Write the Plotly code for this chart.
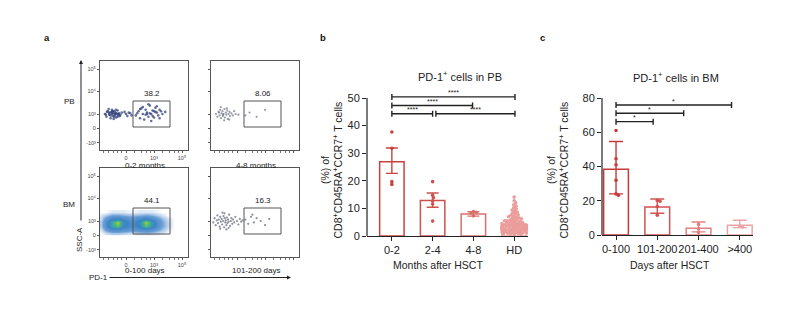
import plotly.graph_objects as go

W, H = 793, 327
FONT = "Liberation Sans, Arial, sans-serif"

# ---------------- data: panel a (flow cytometry, display units) ----------------
U_TICKS = [0, 1, 2]
U_TICKTEXT = ["0", "10³", "10⁵"]
V_TICKS = [-1.07, 0, 1, 2.64, 4.21]
V_TICKTEXT = ["-10³", "0", "10³", "10⁴", "10⁵"]
U_MINOR = [-0.8, -0.62, -0.45, -0.3, -0.15, 0.3, 0.55, 0.72, 0.86, 1.3, 1.55, 1.72, 1.86]
U_RANGE = [-0.929, 2.214]
V_RANGE = [-1.571, 4.786]
GATE_U = [0.25, 1.571]
GATE_V = [0.071, 1.929]
GATE_PCT = ["38.2", "8.06", "44.1", "16.3"]
FLOW_CAPTIONS = ["0-2 months", "4-8 months", "0-100 days", "101-200 days"]
ROW_LABELS = ["PB", "BM"]

TL_U = [-0.75, -0.7, -0.65, -0.6, -0.58, -0.55, -0.5, -0.5, -0.48, -0.45, -0.42, -0.4, -0.38, -0.35,
        -0.33, -0.3, -0.28, -0.25, -0.2, -0.15, -0.62, -0.52, -0.44, -0.36, -0.68, -0.3, -0.4, -0.56,
        -0.47, -0.22, -0.72, -0.6, -0.5, -0.42, -0.34, -0.26,
        0.0, 0.1, 0.2, 0.05, 0.15, -0.05,
        0.35, 0.45, 0.5, 0.55, 0.6, 0.65, 0.7, 0.75, 0.8, 0.85, 0.9, 0.95, 1.0, 1.05, 1.1, 1.15,
        1.2, 1.3, 1.4, 0.4, 0.6, 0.8, 1.0, 1.2, 0.7, 0.9, 1.1, 0.5, 0.85, 1.25, 0.95, 0.75, 1.05]
TL_V = [1.0, 0.8, 1.2, 0.95, 1.1, 0.7, 1.0, 1.3, 0.85, 1.05, 1.2, 0.9, 1.1, 0.75, 1.0, 1.25, 0.9,
        1.05, 0.95, 1.1, 1.35, 1.15, 0.65, 1.3, 1.15, 0.8, 1.0, 0.9, 1.2, 0.85, 0.95, 1.05, 1.15,
        0.8, 1.05, 1.0,
        1.0, 1.1, 0.9, 0.85, 1.05, 1.15,
        0.9, 1.2, 0.7, 1.4, 1.0, 0.6, 1.3, 1.1, 0.8, 1.6, 1.0, 1.25, 0.75, 1.45, 1.1, 0.9, 1.3,
        1.0, 1.15, 1.05, 1.5, 1.7, 1.2, 0.7, 0.95, 0.5, 1.55, 1.35, 1.05, 1.2, 0.85, 1.0, 1.15]

TR_U = [-0.75, -0.7, -0.66, -0.62, -0.6, -0.57, -0.55, -0.52, -0.5, -0.48, -0.45, -0.43, -0.4,
        -0.38, -0.35, -0.33, -0.3, -0.27, -0.25, -0.2, -0.15, -0.1, -0.05, 0.05, -0.58, -0.46,
        -0.36, -0.64, -0.28, -0.5, 0.45, 0.7, 1.0, 0.3]
TR_V = [1.0, 0.8, 1.15, 0.9, 1.3, 0.7, 1.05, 1.2, 0.85, 1.0, 1.35, 0.75, 1.1, 0.95, 1.25, 0.65,
        1.0, 1.15, 0.85, 1.05, 0.9, 1.2, 1.0, 0.95, 1.5, 0.55, 1.4, 1.1, 0.6, 0.95, 1.1, 0.8,
        1.3, 0.9]

BR_U = [-0.85, -0.8, -0.76, -0.72, -0.7, -0.68, -0.65, -0.62, -0.6, -0.58, -0.55, -0.53, -0.5,
        -0.48, -0.46, -0.44, -0.42, -0.4, -0.38, -0.36, -0.34, -0.32, -0.3, -0.28, -0.25, -0.22,
        -0.2, -0.17, -0.14, -0.1, -0.06, 0.0, 0.05, 0.1, 0.15, 0.2, -0.6, -0.45, -0.3, -0.52,
        -0.38, 0.3, 0.4, 0.5, 0.6, 0.7, 0.85, 1.0, 1.15, 0.55]
BR_V = [0.9, 1.2, 0.7, 1.05, 1.4, 0.85, 1.1, 0.6, 1.3, 0.95, 1.15, 0.75, 1.0, 1.35, 0.55, 1.2,
        0.9, 1.05, 0.7, 1.25, 0.85, 1.1, 0.95, 1.45, 0.65, 1.0, 1.2, 0.8, 1.1, 0.9, 1.3, 1.0,
        0.75, 1.15, 0.95, 1.05, 0.45, 1.55, 0.5, 1.6, 0.4, 1.1, 0.8, 1.3, 0.9, 1.2, 1.0, 0.7,
        1.15, 1.45]

# density grid for the BM 0-100 days plot
BL_U = [-0.9, -0.7, -0.5, -0.3, -0.1, 0.1, 0.3, 0.5, 0.7, 0.9, 1.1, 1.3, 1.5, 1.7]
BL_V = [0.15, 0.4, 0.65, 0.9, 1.15, 1.4, 1.65]
BL_Z = [
    [0, 0.3, 0.6, 0.6, 0.5, 0.3, 0.3, 0.5, 0.6, 0.5, 0.3, 0.2, 0, 0],
    [0.3, 1.5, 3, 3, 2.5, 2, 2, 2.5, 3, 2.5, 1.5, 0.8, 0.2, 0],
    [0.6, 2.5, 5.5, 7, 4, 3, 3, 4, 7, 5, 2.5, 1.2, 0.4, 0],
    [0.6, 2.5, 6, 8.5, 4.5, 3, 3, 4.5, 8.5, 5.5, 2.5, 1.2, 0.4, 0],
    [0.4, 1.8, 3.5, 4, 3, 2.2, 2.2, 3, 4, 3, 1.8, 0.9, 0.3, 0],
    [0.2, 0.6, 1.2, 1.2, 1, 0.8, 0.8, 1, 1.2, 1, 0.6, 0.3, 0, 0],
    [0, 0, 0.2, 0.2, 0.2, 0.1, 0.1, 0.2, 0.2, 0.2, 0.1, 0, 0, 0],
]

# ---------------- data: panel b ----------------
B_TITLE = "PD-1<sup>+</sup> cells in PB"
B_XTITLE = "Months after HSCT"
B_CATS = ["0-2", "2-4", "4-8", "HD"]
B_MEAN = [26.9, 12.9, 8.0, 4.2]
B_ERR_UP = [5.0, 2.7, 0.8, 0.5]
B_ERR_DN = [4.2, 2.5, 0.8, 0.5]
B_POINTS = [
    [37.7, 31.8, 19.7, 18.7],
    [19.7, 14.8, 13.9, 12.7, 11.6, 5.4],
    [8.9, 8.6, 8.3, 7.3],
    [14.1, 12.8, 12.0, 11.3, 10.8, 10.2, 9.8, 9.4, 9.0, 8.7, 8.3, 8.0, 7.7, 7.5, 7.2, 7.0,
     6.8, 6.6, 6.4, 6.2, 6.0, 5.8, 5.7, 5.5, 5.3, 5.2, 5.0, 4.9, 4.7, 4.6, 4.5, 4.3, 4.2,
     4.1, 4.0, 3.9, 3.8, 3.7, 3.6, 3.5, 3.4, 3.3, 3.2, 3.1, 3.0, 2.9, 2.8, 2.7, 2.6, 2.5,
     2.4, 2.3, 2.2, 2.1, 2.0, 1.9, 1.8, 1.7, 1.6, 1.5, 1.4, 1.3, 1.2, 1.1, 1.0, 0.9, 0.8,
     0.7, 0.6, 0.5, 3.5, 2.5, 4.5, 3.0, 2.0, 5.5, 1.5, 4.0, 2.8, 3.3],
]
B_COLORS = ["#c8433c", "#cd524d", "#d7716c", "#ea9d9b"]
B_YTICKS = [0, 10, 20, 30, 40, 50]
B_SIG = [(0, 3.02, 50.4, "****"), (0, 1.98, 47.3, "****"),
         (0, 1.0, 44.3, "****"), (1.08, 3.02, 44.3, "****")]

# ---------------- data: panel c ----------------
C_TITLE = "PD-1<sup>+</sup> cells in BM"
C_XTITLE = "Days after HSCT"
C_CATS = ["0-100", "101-200", "201-400", ">400"]
C_MEAN = [38.4, 16.4, 3.9, 5.7]
C_ERR_UP = [16.2, 4.6, 3.7, 2.9]
C_ERR_DN = [14.4, 3.7, 2.1, 1.4]
C_POINTS = [
    [61.0, 44.5, 41.0, 32.0, 24.0, 23.2],
    [20.2, 19.7, 16.6, 11.5],
    [6.2, 3.5, 1.5],
    [4.9, 4.6],
]
C_COLORS = ["#c83a3a", "#d45252", "#e28180", "#eba4a3"]
C_YTICKS = [0, 20, 40, 60, 80]
C_SIG = [(0, 2.8, 75.9, "*"), (0, 1.64, 71.1, "*"), (0, 0.9, 66.2, "*")]

Y_TITLE = "(%) of<br>CD8<sup>+</sup>CD45RA<sup>+</sup>CCR7<sup>+</sup> T cells"


def px(x):
    return x / W


def py(y):
    return 1 - y / H


def swarm(vals, xunit, yunit, diam, maxoff):
    placed, offs = [], []
    for v in vals:
        yy = v * yunit
        best = 0.0
        for k in range(0, 200):
            found = False
            for s in ([0] if k == 0 else [1, -1]):
                off = s * k * 0.4
                if all((off - a) ** 2 + (yy - b) ** 2 >= diam ** 2 for a, b in placed):
                    best = off
                    found = True
                    break
            if found:
                break
        placed.append((best, yy))
        o = best / xunit
        offs.append(max(-maxoff, min(maxoff, o)))
    return offs


def note(x, y, text, size, angle=0, color="#222"):
    return dict(xref="paper", yref="paper", x=px(x), y=py(y), text=text, showarrow=False,
                xanchor="center", yanchor="middle", textangle=angle,
                font=dict(size=size, color=color))


fig = go.Figure()
layout = dict(width=W, height=H, margin=dict(l=0, r=0, t=0, b=0, autoexpand=False),
              paper_bgcolor="white", plot_bgcolor="white", showlegend=False,
              font=dict(family=FONT, color="#222"))
annotations = []
shapes = []

# ---------------- panel a ----------------
flow_boxes = [(100, 188, 61, 150), (211, 299, 61, 150), (100, 188, 168, 257), (211, 299, 168, 257)]
caption_gap = [15.5, 15.5, 13.5, 13.5]
for i, (x0, x1, y0, y1) in enumerate(flow_boxes):
    n = i + 1
    sfx = "" if n == 1 else str(n)
    left = (i % 2 == 0)
    layout["xaxis" + sfx] = dict(
        domain=[px(x0), px(x1)], range=U_RANGE, anchor="y" + sfx, showline=True, mirror=True,
        linecolor="#555", linewidth=1, ticks="outside", ticklen=2, tickcolor="#555",
        tickvals=U_TICKS, ticktext=U_TICKTEXT, showticklabels=left, automargin=False,
        tickfont=dict(size=5.5, color="#444"), showgrid=False, zeroline=False, tickangle=0,
        minor=dict(ticks="outside", ticklen=1.5, tickcolor="#777", tickvals=U_MINOR))
    layout["yaxis" + sfx] = dict(
        domain=[py(y1), py(y0)], range=V_RANGE, anchor="x" + sfx, showline=True, mirror=True,
        linecolor="#555", linewidth=1, ticks="outside", ticklen=2, tickcolor="#555",
        tickvals=V_TICKS, ticktext=V_TICKTEXT, showticklabels=left, automargin=False,
        tickfont=dict(size=5.5, color="#444"), showgrid=False, zeroline=False)
    shapes.append(dict(type="rect", xref="x" + sfx, yref="y" + sfx, x0=GATE_U[0], x1=GATE_U[1],
                       y0=GATE_V[0], y1=GATE_V[1], line=dict(color="#555", width=1)))
    annotations.append(dict(xref="x" + sfx, yref="y" + sfx, x=(GATE_U[0] + GATE_U[1]) / 2,
                            y=GATE_V[1], text=GATE_PCT[i], showarrow=False, xanchor="center",
                            yanchor="bottom", yshift=1, font=dict(size=8, color="#222")))
    annotations.append(note((x0 + x1) / 2 + 1, y1 + caption_gap[i], FLOW_CAPTIONS[i], 8))

fig.add_trace(go.Heatmap(x=BL_U, y=BL_V, z=BL_Z, zsmooth="best", zmin=0, zmax=9, showscale=False,
                         colorscale=[[0, "#ffffff"], [0.03, "#d3e1f2"], [0.14, "#6a9ed6"],
                                     [0.4, "#3b82c4"], [0.66, "#38aca3"], [0.86, "#7cc64a"],
                                     [1, "#d2da3a"]],
                         xaxis="x3", yaxis="y3", hoverinfo="skip"))
fig.add_trace(go.Scatter(x=TL_U, y=TL_V, mode="markers", xaxis="x", yaxis="y",
                         marker=dict(size=2.6, color="#2f3f78", opacity=0.75), hoverinfo="skip"))
fig.add_trace(go.Scatter(x=TR_U, y=TR_V, mode="markers", xaxis="x2", yaxis="y2",
                         marker=dict(size=2.2, color="#6b6f80", opacity=0.7), hoverinfo="skip"))
fig.add_trace(go.Scatter(x=BR_U, y=BR_V, mode="markers", xaxis="x4", yaxis="y4",
                         marker=dict(size=2.2, color="#5e6272", opacity=0.7), hoverinfo="skip"))

for lab, yy in zip(ROW_LABELS, [101, 204]):
    annotations.append(note(69, yy, lab, 8))
annotations.append(note(79, 240, "SSC-A", 8, angle=-90))
annotations.append(note(98, 277, "PD-1", 8))
annotations.append(dict(xref="paper", yref="paper", x=px(81), y=py(60), ax=0, ay=162, text="",
                        showarrow=True, arrowhead=2, arrowsize=0.8, arrowwidth=1, arrowcolor="#222"))
annotations.append(dict(xref="paper", yref="paper", x=px(291), y=py(277.5), ax=-183, ay=0, text="",
                        showarrow=True, arrowhead=2, arrowsize=0.8, arrowwidth=1, arrowcolor="#222"))

# ---------------- bar panels ----------------
def bar_panel(n, cats, means, eup, edn, points, colors, yticks, ytop, yrange, xrange, xdom, ydom,
              sig, title, xtitle, title_xy, xtitle_xy, ytitle_x, cap):
    sfx = str(n)
    xa, ya = "x" + sfx, "y" + sfx
    x_unit = (xdom[1] - xdom[0]) / (xrange[1] - xrange[0])
    y_unit = (ydom[1] - ydom[0]) / (yrange[1] - yrange[0])
    for i in range(len(cats)):
        fig.add_trace(go.Bar(x=[i], y=[means[i]], width=0.6, xaxis=xa, yaxis=ya,
                             marker=dict(color="white", line=dict(color=colors[i], width=1.5)),
                             error_y=dict(type="data", array=[eup[i]], arrayminus=[edn[i]],
                                          color=colors[i], thickness=1.4, width=cap),
                             hoverinfo="skip"))
    for i, pts in enumerate(points):
        offs = swarm(pts, x_unit, y_unit, 2.6, 0.3)
        fig.add_trace(go.Scatter(x=[i + o for o in offs], y=pts, mode="markers", xaxis=xa, yaxis=ya,
                                 marker=dict(size=3.6, color=colors[i]), hoverinfo="skip",
                                 cliponaxis=False))
    layout["xaxis" + sfx] = dict(
        domain=[px(xdom[0]), px(xdom[1])], range=xrange, anchor=ya, showline=True,
        linecolor="#222", linewidth=1.2, ticks="outside", ticklen=4, tickwidth=1.2,
        tickcolor="#222", tickvals=list(range(len(cats))), ticktext=cats, tickangle=0,
        automargin=False, tickfont=dict(size=11, color="#222"), showgrid=False, zeroline=False)
    layout["yaxis" + sfx] = dict(
        domain=[1 - ydom[1] / H, 1 - ydom[0] / H],
        range=yrange, anchor=xa, showline=False, ticks="outside", ticklen=4, tickwidth=1.2,
        tickcolor="#222", tickvals=yticks, tickfont=dict(size=11, color="#222"),
        automargin=False, showgrid=False, zeroline=False)
    shapes.append(dict(type="line", xref="paper", yref=ya, x0=px(xdom[0]), x1=px(xdom[0]),
                       y0=0, y1=ytop, line=dict(color="#222", width=1.2)))
    for (a, b, yv, txt) in sig:
        shapes.append(dict(type="line", xref=xa, yref=ya, x0=a, x1=b, y0=yv, y1=yv,
                           line=dict(color="#222", width=1.4)))
        d = 3.0 / y_unit
        for e in (a, b):
            shapes.append(dict(type="line", xref=xa, yref=ya, x0=e, x1=e, y0=yv - d, y1=yv + d,
                               line=dict(color="#222", width=1.4)))
        annotations.append(dict(xref=xa, yref=ya, x=(a + b) / 2, y=yv, text=txt, showarrow=False,
                                xanchor="center", yanchor="middle", yshift=4,
                                font=dict(size=7, color="#222")))
    annotations.append(note(title_xy[0], title_xy[1], title, 11))
    annotations.append(note(xtitle_xy[0], xtitle_xy[1], xtitle, 10.5))
    annotations.append(note(ytitle_x, 170, Y_TITLE, 10.5, angle=-90))


# panel b: y=0 at 236 px, y=50 at 98 px -> 2.76 px/unit; range to 52
bar_panel(5, B_CATS, B_MEAN, B_ERR_UP, B_ERR_DN, B_POINTS, B_COLORS, B_YTICKS, 50, [0, 52],
          [-0.61, 3.34], (367, 528), (92.5, 236), B_SIG, B_TITLE, B_XTITLE, (460, 76), (438, 265),
          331.5, 6)
# panel c: y=0 at 235 px, y=80 at 98 px
bar_panel(6, C_CATS, C_MEAN, C_ERR_UP, C_ERR_DN, C_POINTS, C_COLORS, C_YTICKS, 80, [0, 80],
          [-0.34, 3.32], (602, 753), (98, 235), C_SIG, C_TITLE, C_XTITLE, (676, 77), (670, 265),
          557.5, 7)

# panel letters
for lab, xx in zip(["a", "b", "c"], [47, 323, 542]):
    annotations.append(note(xx, 37, "<b>" + lab + "</b>", 9.5, color="#111"))

layout["annotations"] = annotations
layout["shapes"] = shapes
fig.update_layout(**layout)
fig.write_html("out.html")
